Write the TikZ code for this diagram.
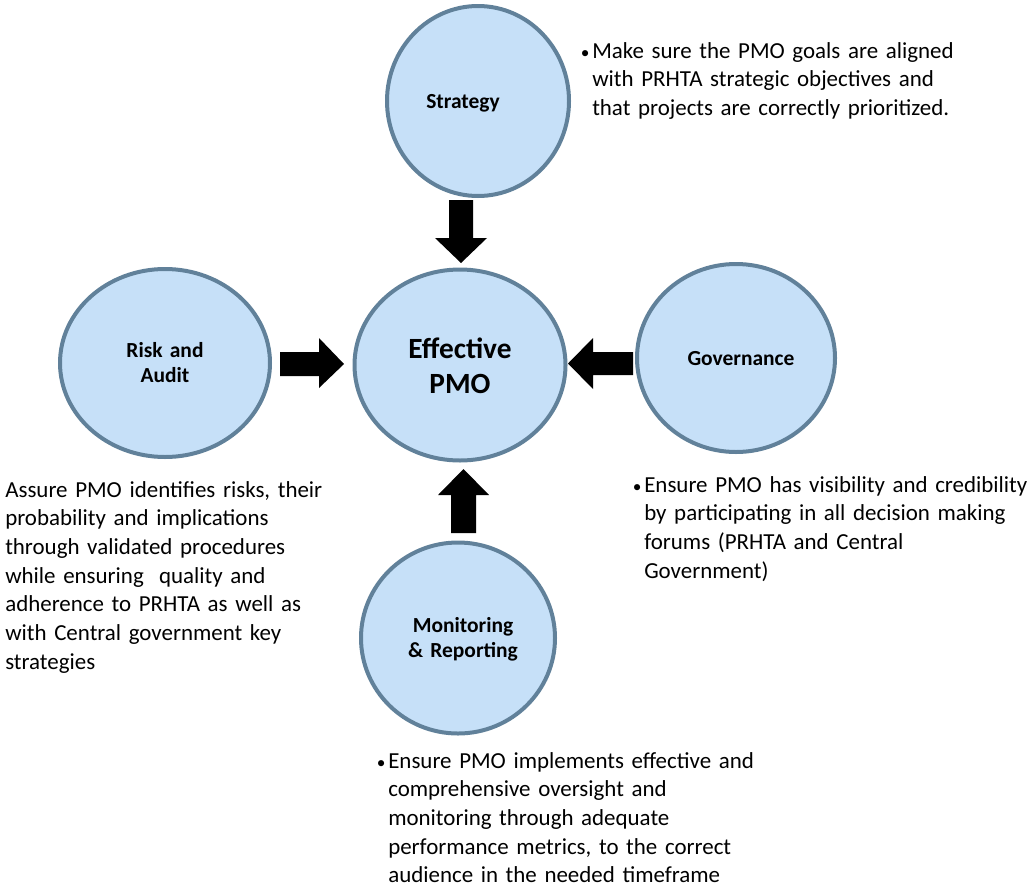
\documentclass[tikz,border=0pt]{standalone}
\usepackage{fontspec}
\setmainfont{Carlito}
\usetikzlibrary{shapes.geometric}
\definecolor{bubblefill}{HTML}{C6E0F8}
\definecolor{bubbleedge}{HTML}{61819A}
\tikzset{
  bubble/.style={ellipse, draw=bubbleedge, fill=bubblefill, line width=3pt, inner sep=0pt},
  bubblelabel/.style={font=\bfseries\fontsize{16.1pt}{19pt}\selectfont, inner sep=0pt, text width=200*0.75pt, align=center, anchor=base},
  mainlabel/.style={font=\bfseries\fontsize{22pt}{26.25pt}\selectfont, inner sep=0pt, text width=200*0.75pt, align=center, anchor=base},
  note/.style={font=\fontsize{17.2pt}{21.5pt}\selectfont, inner sep=0pt, text width=460*0.75pt, align=left, anchor=base west},
  blockarrow/.style={fill=black, draw=none}
}
\newcommand{\bulletmark}{\llap{{\fontsize{13pt}{13pt}\selectfont\textbullet}\hspace{2pt}}}
\begin{document}
\begin{tikzpicture}[x=0.75pt, y=-0.75pt]
\useasboundingbox (0,0) rectangle (1034,889);

% the five bubbles
\node[bubble, minimum width=182*0.75pt, minimum height=190*0.75pt] (strat) at (478,101) {};
\node[bubble, minimum width=211*0.75pt, minimum height=191*0.75pt] (eff)   at (460,365) {};
\node[bubble, minimum width=210*0.75pt, minimum height=188*0.75pt] (risk)  at (165,363) {};
\node[bubble, minimum width=198*0.75pt, minimum height=188*0.75pt] (gov)   at (736,358) {};
\node[bubble, minimum width=194*0.75pt, minimum height=191*0.75pt] (mon)   at (458,638) {};

% bubble captions
\node[bubblelabel] (stratlbl) at (463,108) {Strategy};
\node[mainlabel]   (efflbl)   at (460,358) {Effective\\PMO};
\node[bubblelabel] (risklbl)  at (165,357) {Risk and\\Audit};
\node[bubblelabel] (govlbl)   at (741,365) {Governance};
\node[bubblelabel] (monlbl)   at (463,632) {Monitoring\\\& Reporting};

% block arrows pointing into the centre bubble
\coordinate (downtip)  at (461,263);
\coordinate (righttip) at (344,364);
\coordinate (lefttip)  at (568,363.5);
\coordinate (uptip)    at (463.5,469);
\fill[blockarrow] (449,200) -- (473,200) -- (473,238) -- (487,238) -- (downtip) -- (435,238) -- (449,238) -- cycle;
\fill[blockarrow] (280,352) -- (319,352) -- (319,338) -- (righttip) -- (319,388) -- (319,376) -- (280,376) -- cycle;
\fill[blockarrow] (633,352) -- (593,352) -- (593,338) -- (lefttip) -- (593,389) -- (593,375) -- (633,375) -- cycle;
\fill[blockarrow] (451,533) -- (451,495) -- (438,495) -- (uptip) -- (489,495) -- (476,495) -- (476,533) -- cycle;

% descriptions
\node[note] (stratnote) at (592,58) {\bulletmark Make sure the PMO goals are aligned\\with PRHTA strategic objectives and\\that projects are correctly prioritized.};
\node[note] (risknote) at (5,497) {Assure PMO identifies risks, their\\probability and implications\\through validated procedures\\while ensuring\ \ quality and\\adherence to PRHTA as well as\\with Central government key\\strategies};
\node[note] (govnote) at (644,492) {\bulletmark Ensure PMO has visibility and credibility\\by participating in all decision making\\forums (PRHTA and Central\\Government)};
\node[note] (monnote) at (388,768) {\bulletmark Ensure PMO implements effective and\\comprehensive oversight and\\monitoring through adequate\\performance metrics, to the correct\\audience in the needed timeframe};
\end{tikzpicture}
\end{document}
